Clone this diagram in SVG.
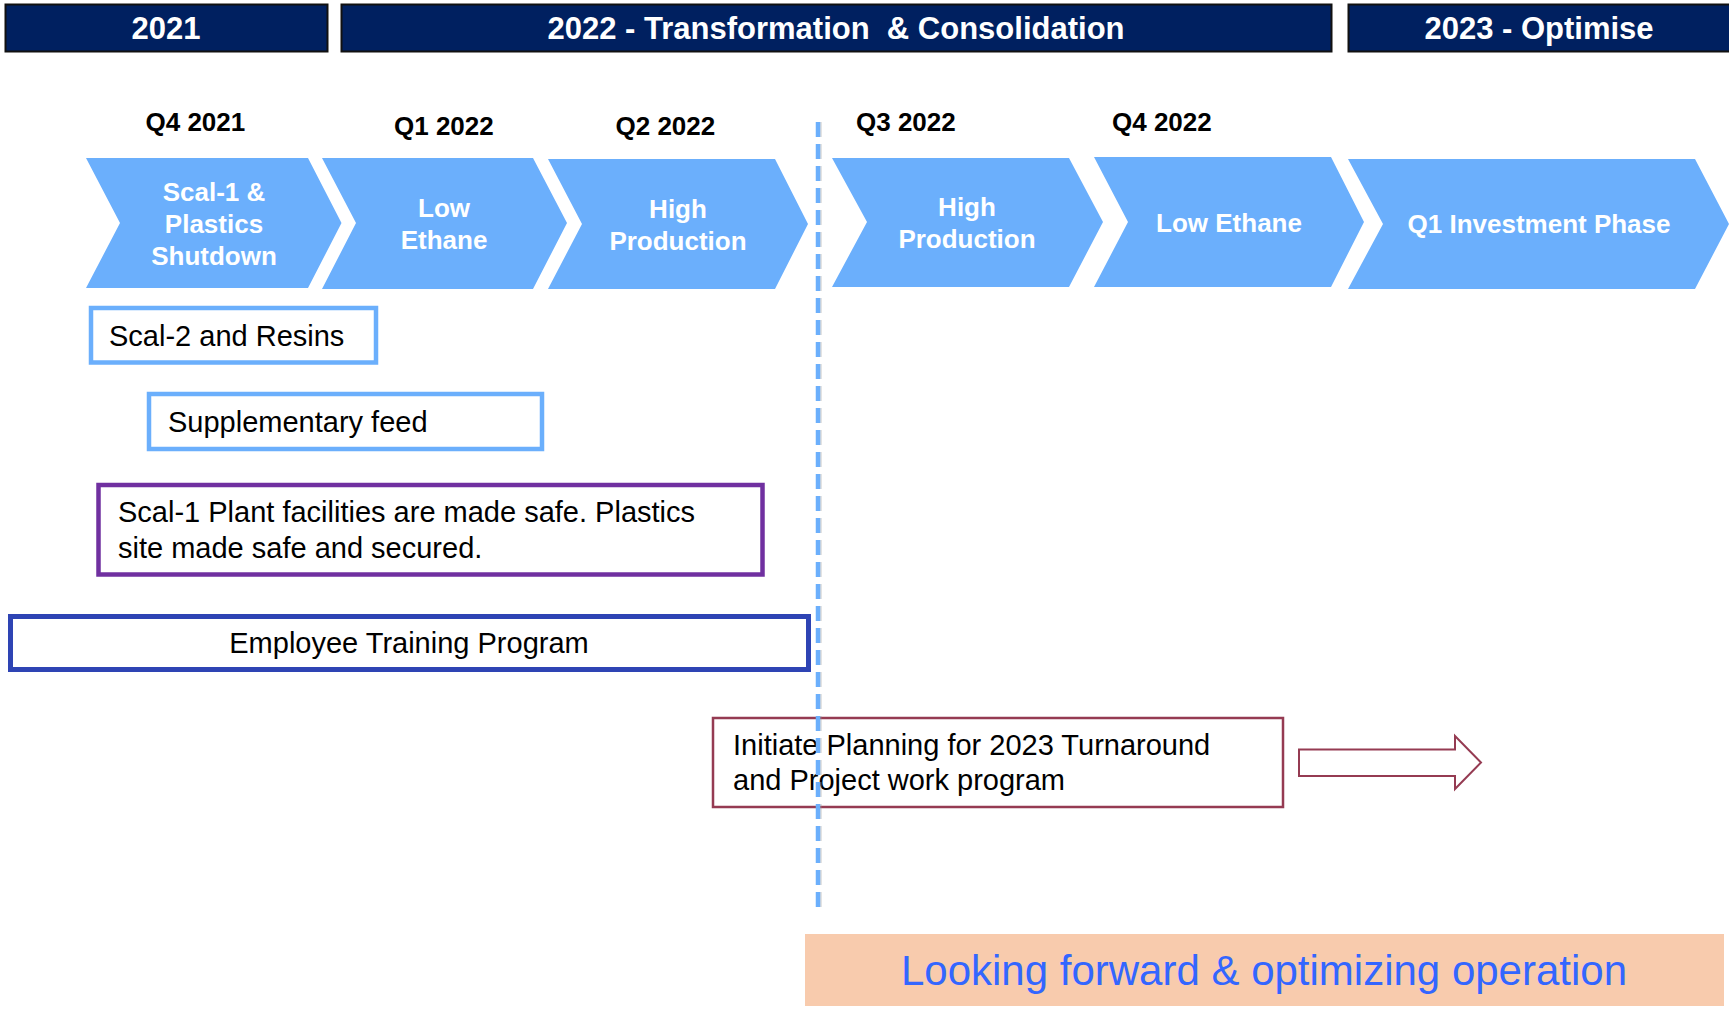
<svg xmlns="http://www.w3.org/2000/svg" width="1729" height="1010" viewBox="0 0 1729 1010">
<style>
.hdr{fill:#002060;stroke:#111;stroke-width:2}
.hdrt{font-family:"Liberation Sans",Arial,sans-serif;font-weight:bold;font-size:31px;fill:#fff;text-anchor:middle}
.q{font-family:"Liberation Sans",Arial,sans-serif;font-weight:bold;font-size:26px;fill:#000}
.chev{fill:#6BAFFC}
.ct{font-family:"Liberation Sans",Arial,sans-serif;font-weight:bold;font-size:26px;fill:#fff;text-anchor:middle}
.bt{font-family:"Liberation Sans",Arial,sans-serif;font-size:29px;fill:#000}
</style>
<rect width="1729" height="1010" fill="#fff"/>
<g id="header-2021"><rect class="hdr" x="5.5" y="4.5" width="322" height="47"/><text class="hdrt" x="166" y="39">2021</text></g>
<g id="header-2022"><rect class="hdr" x="341.5" y="4.5" width="990" height="47"/><text class="hdrt" x="836" y="39" xml:space="preserve">2022 - Transformation  &amp; Consolidation</text></g>
<g id="header-2023"><rect class="hdr" x="1348.5" y="4.5" width="384" height="47"/><text class="hdrt" x="1539" y="39">2023 - Optimise</text></g>

<g id="quarters">
<text class="q" x="145.5" y="131">Q4 2021</text>
<text class="q" x="394" y="135">Q1 2022</text>
<text class="q" x="615.5" y="135">Q2 2022</text>
<text class="q" x="856" y="131">Q3 2022</text>
<text class="q" x="1112" y="131">Q4 2022</text>
</g>

<g id="chevron-q4-2021"><polygon class="chev" points="86,158 308,158 341.5,223 308,288 86,288 120,223"/>
<text class="ct" x="214" y="200.5">Scal-1 &amp;</text><text class="ct" x="214" y="232.5">Plastics</text><text class="ct" x="214" y="264.5">Shutdown</text></g>
<g id="chevron-q1-2022"><polygon class="chev" points="322,158 533,158 567,223 533,289 322,289 356,223"/>
<text class="ct" x="444" y="217">Low</text><text class="ct" x="444" y="249">Ethane</text></g>
<g id="chevron-q2-2022"><polygon class="chev" points="548,159 775,159 808,224 775,289 548,289 582,224"/>
<text class="ct" x="678" y="218">High</text><text class="ct" x="678" y="249.5">Production</text></g>
<g id="chevron-q3-2022"><polygon class="chev" points="832,158 1069,158 1103,222 1069,287 832,287 867,222"/>
<text class="ct" x="967" y="216">High</text><text class="ct" x="967" y="248">Production</text></g>
<g id="chevron-q4-2022"><polygon class="chev" points="1094,157 1331,157 1364,222 1331,287 1094,287 1128,222"/>
<text class="ct" x="1229" y="232">Low Ethane</text></g>
<g id="chevron-2023"><polygon class="chev" points="1348,159 1695,159 1729,224 1695,289 1348,289 1383,224"/>
<text class="ct" x="1539" y="233">Q1 Investment Phase</text></g>

<g id="box-scal2"><rect x="91" y="308" width="285" height="54.5" fill="#fff" stroke="#6BAFFC" stroke-width="4.5"/>
<text class="bt" x="109" y="346">Scal-2 and Resins</text></g>
<g id="box-supp"><rect x="149" y="394" width="393" height="55" fill="#fff" stroke="#6BAFFC" stroke-width="4.5"/>
<text class="bt" x="168" y="432">Supplementary feed</text></g>
<g id="box-safe"><rect x="98.5" y="485" width="664" height="89.5" fill="#fff" stroke="#7030A0" stroke-width="4.5"/>
<text class="bt" x="118" y="522">Scal-1 Plant facilities are made safe. Plastics</text>
<text class="bt" x="118" y="557.5">site made safe and secured.</text></g>
<g id="box-training"><rect x="10.5" y="616.5" width="798" height="53" fill="#fff" stroke="#2E44B4" stroke-width="5"/>
<text class="bt" x="409" y="653" text-anchor="middle">Employee Training Program</text></g>
<g id="box-planning"><rect x="713" y="718" width="570" height="89" fill="#fff" stroke="#953B52" stroke-width="2.5"/>
<text class="bt" x="733" y="755">Initiate Planning for 2023 Turnaround</text>
<text class="bt" x="733" y="790">and Project work program</text></g>

<g id="connectors">
<line x1="819.5" y1="122" x2="819.5" y2="907" stroke="#999" stroke-opacity="0.35" stroke-width="4.5" stroke-dasharray="15 7"/>
<line x1="818" y1="122" x2="818" y2="907" stroke="#6BAFFC" stroke-width="4.5" stroke-dasharray="15 7"/>
<polygon points="1299,749.5 1455,749.5 1455,736 1481,762.5 1455,789 1455,776 1299,776" fill="#fff" stroke="#953B52" stroke-width="2"/>
</g>

<g id="banner"><rect x="805" y="934" width="919" height="72" fill="#F8CBAD"/>
<text x="1264" y="985" text-anchor="middle" font-family="Liberation Sans, Arial, sans-serif" font-size="42" fill="#3366FF">Looking forward &amp; optimizing operation</text></g>
</svg>
